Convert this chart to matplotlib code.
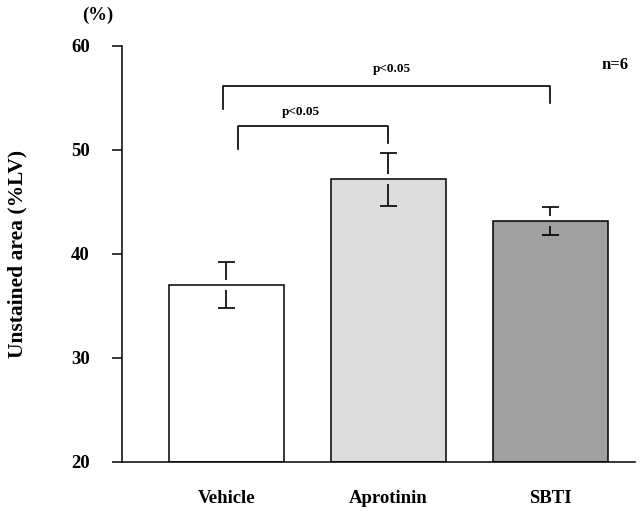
import numpy as np
import matplotlib
matplotlib.use('Agg')
import matplotlib.pyplot as plt

plt.rcParams['font.family'] = ['Liberation Serif', 'DejaVu Serif']
plt.rcParams['font.weight'] = 'bold'

groups = ['Vehicle', 'Aprotinin', 'SBTI']
means = [37.0, 47.2, 43.2]
errors = [2.2, 2.55, 1.35]
colors = ['#ffffff', '#dcdcdc', '#a0a0a0']
yticks = [20, 30, 40, 50, 60]
p_labels = ['p<0.05', 'p<0.05']
n_label = 'n=6'

x = np.arange(len(groups))

fig = plt.figure(figsize=(6.4, 5.13), dpi=100)
ax = fig.add_axes([122 / 640, 1 - 462 / 513, 513 / 640, 416 / 513])

ax.bar(x, np.array(means) - 20, bottom=20, width=0.707, color=colors,
       edgecolor='black', linewidth=1.1, zorder=2)

# error bars drawn with a small gap at the bar top
gap = 0.5
cap = 0.052
m = np.array(means)
e = np.array(errors)
ax.vlines(x, m + gap, m + e, color='black', lw=1.2, zorder=3)
ax.vlines(x, m - gap, m - e, color='black', lw=1.2, zorder=3)
ax.hlines(m + e, x - cap, x + cap, color='black', lw=1.2, zorder=3)
ax.hlines(m - e, x - cap, x + cap, color='black', lw=1.2, zorder=3)

# significance brackets
brackets = [((0.07, 1.0), 52.3, (50.1, 50.7)),
            ((-0.02, 2.0), 56.2, (53.9, 54.5))]
for (x0, x1), h, (b0, b1) in brackets:
    ax.plot([x0, x0, x1, x1], [b0, h, h, b1], color='black', lw=1.2,
            clip_on=False)
ax.text(0.46, 53.7, p_labels[0], ha='center', va='center', fontsize=9.5,
        fontweight='bold')
ax.text(1.02, 57.8, p_labels[1], ha='center', va='center', fontsize=9.5,
        fontweight='bold')
ax.text(2.40, 58.2, n_label, ha='center', va='center', fontsize=12,
        fontweight='bold')

ax.set_xlim(-0.645, 2.522)
ax.set_ylim(20, 60)
ax.set_yticks(yticks)
ax.set_yticklabels([str(t) for t in yticks], fontsize=13.5, fontweight='bold')
ax.set_xticks(x)
ax.set_xticklabels(groups, fontsize=13.5, fontweight='bold')
ax.tick_params(axis='y', length=7.2, width=1.1, pad=16)
ax.tick_params(axis='x', length=0, pad=20)

for s in ['top', 'right']:
    ax.spines[s].set_visible(False)
ax.spines['left'].set_linewidth(1.1)
ax.spines['bottom'].set_linewidth(1.1)

ax.set_ylabel('Unstained area (%LV)', fontsize=15.5, fontweight='bold')
ax.yaxis.set_label_coords(-0.185, 0.5)

fig.text(97.5 / 640, 1 - 15 / 513, '(%)', ha='center', va='center',
         fontsize=13.5, fontweight='bold')

fig.savefig('out.png', dpi=100)
